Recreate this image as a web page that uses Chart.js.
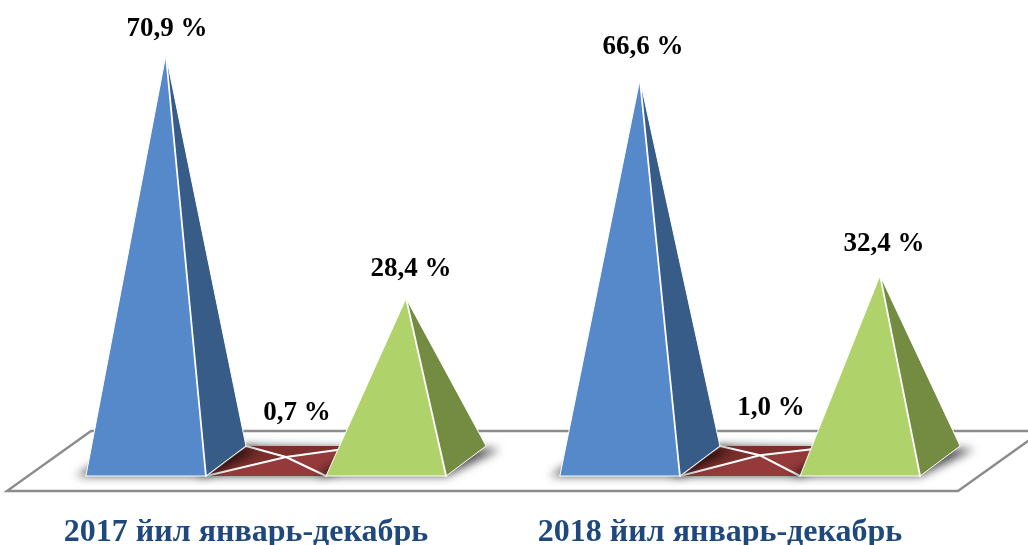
<!DOCTYPE html>
<html><head><meta charset="utf-8">
<style>html,body{margin:0;padding:0;background:#fff}canvas{display:block}</style>
<script src="https://cdn.jsdelivr.net/npm/chart.js@4/dist/chart.umd.js"></script>
</head><body><canvas id="c" width="1028" height="545"></canvas>
<script>
const categories = ["2017 йил январь-декабрь", "2018 йил январь-декабрь"];
const seriesNames = ["A", "B", "C"];
const seriesA = [70.9, 66.6];
const seriesB = [0.7, 1.0];
const seriesC = [28.4, 32.4];
const lightColors = ["#5589ca", "#953a3a", "#afd36a"];
const darkColors = ["#375c88", "#7c2f2d", "#748c42"];
const labelNudge = [[[-1, 5], [1, -1]], [[9, -5], [9, -8]], [[3, 2], [2, 0]]];

function poly(ctx, pts) {
  ctx.beginPath();
  pts.forEach((p, i) => i ? ctx.lineTo(p[0], p[1]) : ctx.moveTo(p[0], p[1]));
  ctx.closePath();
}
function corners(el) {
  const w = el.width, cx = el.x, b = el.base, dy = w / 8;
  return {
    FL: [cx - 2 * w / 3, b + dy], FR: [cx + w / 3, b + dy],
    BR: [cx + 2 * w / 3, b - dy], BL: [cx - w / 3, b - dy], A: [cx, el.y]
  };
}
Chart.BarElement.prototype.draw = function (ctx) {
  const f = corners(this), light = this.options.backgroundColor, dark = this.options.borderColor;
  const flat = (this.base - this.y) < 30;
  const away = 3000;
  ctx.save();
  ctx.shadowColor = "rgba(0,0,0,0.7)"; ctx.shadowBlur = 10; ctx.shadowOffsetX = away; ctx.shadowOffsetY = 1;
  ctx.fillStyle = "#000";
  poly(ctx, [[f.FL[0] - 10 - away, f.FL[1] - 1], [f.FR[0] - away, f.FR[1] - 1], [f.BR[0] + 14 - away, f.BR[1] + 2], [f.BL[0] - away, f.BL[1] - 1]]);
  ctx.fill();
  ctx.restore();
  ctx.save();
  ctx.strokeStyle = "#ffffff"; ctx.lineJoin = "round"; ctx.lineCap = "round";
  const faces = flat
    ? [[f.BL, f.BR, dark], [f.FL, f.BL, dark], [f.BR, f.FR, light], [f.FL, f.FR, light]]
    : [[f.FL, f.FR, light], [f.FR, f.BR, dark]];
  faces.forEach(([p, q, col]) => {
    poly(ctx, [p, q, f.A]);
    ctx.fillStyle = col; ctx.fill();
  });
  if (flat) {
    ctx.lineWidth = 2;
    ctx.beginPath();
    [f.FL, f.BL, f.BR, f.FR].forEach(p => { ctx.moveTo(p[0], p[1]); ctx.lineTo(f.A[0], f.A[1]); });
    ctx.moveTo(f.FL[0], f.FL[1]); ctx.lineTo(f.BL[0], f.BL[1]);
    ctx.stroke();
  } else {
    ctx.lineWidth = 1;
    ctx.beginPath();
    ctx.moveTo(f.FL[0], f.FL[1]); ctx.lineTo(f.A[0], f.A[1]); ctx.lineTo(f.BR[0], f.BR[1]); ctx.lineTo(f.FR[0], f.FR[1]);
    ctx.lineTo(f.FL[0], f.FL[1]);
    ctx.stroke();
    ctx.lineWidth = 1.8;
    ctx.beginPath();
    ctx.moveTo(f.FR[0], f.FR[1]); ctx.lineTo(f.A[0], f.A[1]);
    ctx.stroke();
  }
  ctx.restore();
};

let drawingLast = false;
const scenePlugin = {
  id: "scene",
  beforeDatasetsDraw(chart) {
    const { x: xs, y: ys } = chart.scales, ctx = chart.ctx;
    const y0 = ys.getPixelForValue(0), cw = xs.width / categories.length, w = cw * 0.76 / 3;
    const dy = w / 4, dx = w * 0.35;
    ctx.save();
    ctx.strokeStyle = "#8c8c8c"; ctx.lineWidth = 2.4; ctx.lineJoin = "miter";
    ctx.fillStyle = "#ffffff";
    poly(ctx, [[xs.left - dx, y0 + dy], [xs.right - dx + 3, y0 + dy], [xs.right + dx + 3, y0 - dy], [xs.left + dx, y0 - dy]]);
    ctx.fill(); ctx.stroke();
    ctx.restore();
  },
  beforeDatasetDraw(chart, args) {
    if (args.index === 2 && !drawingLast) return false;
  },
  afterDatasetsDraw(chart) {
    drawingLast = true;
    chart.getDatasetMeta(2).controller.draw();
    drawingLast = false;
    const ctx = chart.ctx;
    ctx.save();
    ctx.font = "bold 27px 'Liberation Serif'";
    ctx.fillStyle = "#000"; ctx.textAlign = "center"; ctx.textBaseline = "middle";
    chart.data.datasets.forEach((ds, d) => {
      chart.getDatasetMeta(d).data.forEach((el, i) => {
        const txt = ds.data[i].toFixed(1).replace(".", ",") + " %";
        const n = labelNudge[d][i];
        ctx.fillText(txt, el.x + 2 + n[0], el.y - 31 + n[1] - (d === 1 ? 8 : 0));
      });
    });
    ctx.restore();
  }
};

function ds(label, data, i) {
  return { label, data, backgroundColor: lightColors[i], borderColor: darkColors[i], categoryPercentage: 0.76, barPercentage: 1, clip: false };
}
new Chart(document.getElementById("c"), {
  type: "bar",
  data: { labels: categories, datasets: [ds(seriesNames[0], seriesA, 0), ds(seriesNames[1], seriesB, 1), ds(seriesNames[2], seriesC, 2)] },
  options: {
    responsive: false, animation: false, devicePixelRatio: 1,
    layout: { padding: { left: 49, right: 31, top: 0, bottom: 0 } },
    plugins: { legend: { display: false }, tooltip: { enabled: false } },
    scales: {
      x: {
        afterFit(scale) { scale.height = 84; },
        grid: { display: false }, border: { display: false },
        ticks: {
          color: "#1f497d", font: { family: "'Liberation Serif'", weight: "bold", size: 32 },
          labelOffset: -40, padding: 45, maxRotation: 0, autoSkip: false
        }
      },
      y: { display: false, min: 0, max: 80.45 }
    }
  },
  plugins: [scenePlugin]
});
</script></body></html>
